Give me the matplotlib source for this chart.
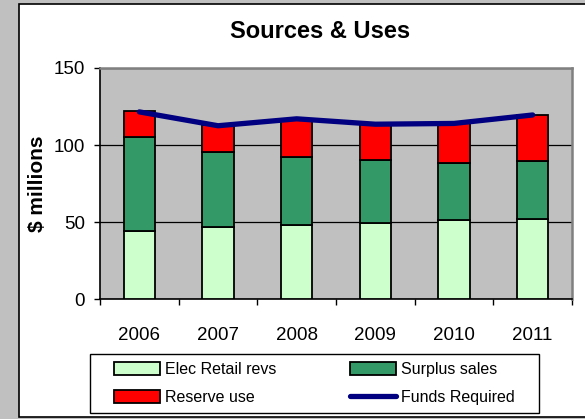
import matplotlib.pyplot as plt
from matplotlib.patches import Rectangle
import numpy as np

plt.rcParams['font.family'] = ['Liberation Sans', 'DejaVu Sans']

years = ['2006', '2007', '2008', '2009', '2010', '2011']
elec_retail = [44, 47, 48, 49.5, 51, 52]
surplus_sales = [61, 48.5, 44, 41, 37.5, 37.5]
reserve_use = [17, 17.5, 25, 23.5, 25.5, 30]
funds_required = [121.5, 112.5, 117, 113.5, 114, 119.5]

W, H = 585, 419
fig = plt.figure(figsize=(W / 100, H / 100), dpi=100)
fig.patch.set_facecolor('#C0C0C0')

# white chart box
fig.patches.append(Rectangle((19 / W, 1 - 417 / H), 1.0, (417 - 4) / H,
                             transform=fig.transFigure, facecolor='white',
                             edgecolor='black', linewidth=1.2, zorder=-5))
# legend frame, drawn by hand so it can be wider than tall padding
fig.patches.append(Rectangle((90 / W, 1 - 413 / H), 449 / W, 59 / H,
                             transform=fig.transFigure, facecolor='white',
                             edgecolor='black', linewidth=1.0, zorder=-4))

ax = fig.add_axes([100 / W, 1 - 299 / H, 472 / W, 231 / H])
ax.set_facecolor('#C0C0C0')

x = np.arange(len(years))
bw = 0.4
edge = dict(edgecolor='black', linewidth=1.3, zorder=3)
b1 = ax.bar(x, elec_retail, bw, color='#CCFFCC', label='Elec Retail revs', **edge)
b2 = ax.bar(x, surplus_sales, bw, bottom=elec_retail, color='#339966',
            label='Surplus sales', **edge)
bottom2 = np.array(elec_retail) + np.array(surplus_sales)
b3 = ax.bar(x, reserve_use, bw, bottom=bottom2, color='#FF0000',
            label='Reserve use', **edge)
ln, = ax.plot(x, funds_required, color='#000080', linewidth=3.8,
              solid_capstyle='round', label='Funds Required', zorder=4)

ax.set_xlim(-0.5, len(years) - 0.5)
ax.set_ylim(0, 150)
ax.set_yticks([0, 50, 100, 150])
ax.yaxis.grid(True, color='black', linewidth=0.9)
ax.set_axisbelow(True)

ax.set_xticks(x)
ax.set_xticklabels(years, fontsize=13.5)
ax.set_xticks(np.arange(-0.5, len(years)), minor=True)
ax.tick_params(axis='x', which='major', length=0, pad=20)
ax.tick_params(axis='x', which='minor', length=4, width=1, direction='out')
ax.tick_params(axis='y', length=4, width=1, direction='out', pad=7, labelsize=13.5)

for s in ['left', 'bottom']:
    ax.spines[s].set_color('black')
    ax.spines[s].set_linewidth(1.2)
for s in ['top', 'right']:
    ax.spines[s].set_color('#808080')
    ax.spines[s].set_linewidth(1.8)

ax.set_ylabel('$ millions', fontsize=15, fontweight='bold')
ax.yaxis.set_label_coords(-0.113, 0.5)

fig.text(320 / W, 1 - 31 / H, 'Sources & Uses', fontsize=17, fontweight='bold',
         ha='center', va='center')

leg = fig.legend([b1, b3, b2, ln],
                 ['Elec Retail revs', 'Reserve use', 'Surplus sales', 'Funds Required'],
                 ncol=2, loc='center',
                 bbox_to_anchor=(314 / W, 1 - 383.5 / H),
                 fontsize=11.5, frameon=False,
                 handlelength=2.9, handleheight=0.9, handletextpad=0.3,
                 labelspacing=0.8, borderpad=0.45, borderaxespad=0,
                 columnspacing=4.6)

fig.savefig('out.png', dpi=100, facecolor=fig.get_facecolor())
